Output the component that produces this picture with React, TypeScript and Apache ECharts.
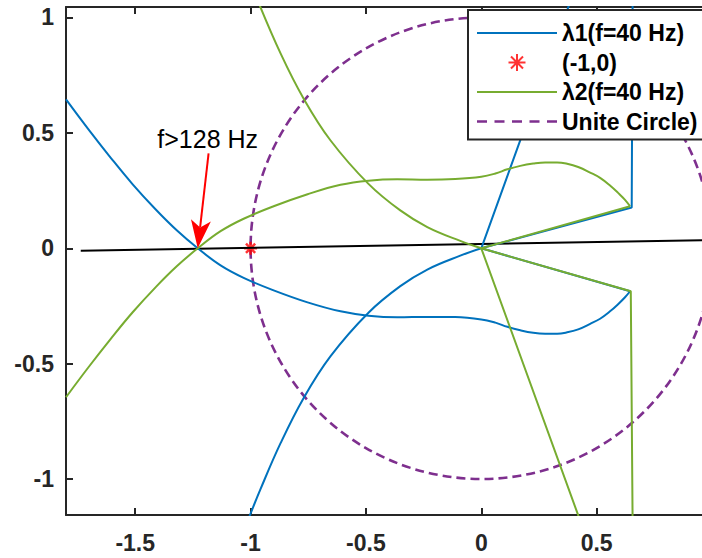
import React, { useEffect, useRef } from "react";
import * as echarts from "echarts";

type Pt = [number, number];

// Axis extents and tick positions
const xRange: Pt = [-1.8, 1.0];
const yRange: Pt = [-1.155, 1.045];
const xTicks = [-1.5, -1, -0.5, 0, 0.5];
const yTicks = [-1, -0.5, 0, 0.5, 1];

// λ1: branch rising from the bottom into the origin
const lambda1Inbound: Pt[] = [
  [-1.011, -1.177], [-0.957, -1.043], [-0.87, -0.844], [-0.771, -0.65],
  [-0.654, -0.468], [-0.489, -0.279], [-0.351, -0.164], [-0.234, -0.092],
  [-0.091, -0.032], [0, 0],
];
// λ1: straight spoke from the origin to the upper corner, then vertical
const lambda1Spoke: Pt[] = [[0, 0], [0.652, 0.177], [0.656, 1.1]];
// λ1: outer branch from the left edge through the crossing to the lower corner
const lambda1Outer: Pt[] = [
  [-1.8, 0.645], [-1.701, 0.513], [-1.606, 0.392], [-1.511, 0.277],
  [-1.411, 0.168], [-1.32, 0.078], [-1.229, 0.0], [-1.13, -0.074],
  [-1.03, -0.128], [-0.9, -0.182], [-0.753, -0.234], [-0.61, -0.273],
  [-0.489, -0.292], [-0.364, -0.299], [-0.234, -0.297], [-0.113, -0.298],
  [0, -0.308], [0.061, -0.322], [0.113, -0.34], [0.169, -0.355],
  [0.225, -0.366], [0.277, -0.37], [0.329, -0.37], [0.372, -0.364],
  [0.42, -0.351], [0.472, -0.327], [0.515, -0.305], [0.558, -0.273],
  [0.593, -0.242], [0.623, -0.212], [0.645, -0.186],
];
// λ1: back to the origin and out through the top
const lambda1Return: Pt[] = [[0.645, -0.186], [0, 0], [0.39, 1.08]];

// λ2: branch falling from the top into the origin
const lambda2Inbound: Pt[] = [
  [-0.97, 1.075], [-0.87, 0.844], [-0.771, 0.65], [-0.654, 0.468],
  [-0.489, 0.279], [-0.351, 0.164], [-0.234, 0.092], [-0.091, 0.032],
  [0, 0],
];
// λ2: straight spoke from the origin to the lower corner, then vertical
const lambda2Spoke: Pt[] = [[0, 0], [0.648, -0.186], [0.656, -1.2]];
// λ2: outer branch from the left edge through the crossing to the upper corner
const lambda2Outer: Pt[] = [
  [-1.8, -0.645], [-1.701, -0.513], [-1.606, -0.392], [-1.511, -0.277],
  [-1.411, -0.168], [-1.32, -0.078], [-1.229, 0.0], [-1.13, 0.074],
  [-1.03, 0.128], [-0.9, 0.182], [-0.753, 0.234], [-0.61, 0.275],
  [-0.489, 0.293], [-0.364, 0.299], [-0.234, 0.297], [-0.113, 0.3],
  [0, 0.31], [0.061, 0.324], [0.113, 0.342], [0.169, 0.357],
  [0.225, 0.367], [0.277, 0.372], [0.329, 0.372], [0.372, 0.366],
  [0.42, 0.352], [0.472, 0.328], [0.515, 0.305], [0.558, 0.272],
  [0.593, 0.24], [0.623, 0.21], [0.645, 0.182],
];
// λ2: back to the origin and out through the bottom
const lambda2Return: Pt[] = [[0.645, 0.182], [0, 0], [0.436, -1.2]];

// Critical point and the near-horizontal reference line
const criticalPoint: Pt[] = [[-1, 0]];
const referenceLine: Pt[] = [[-1.736, -0.011], [1.0, 0.036]];
// Unit circle: centre x, centre y, radius
const unitCircle: [number, number, number][] = [[0, 0, 1]];

// Annotation for the crossing frequency
const noteText = "f>128 Hz";
const noteAnchor: Pt = [-1.186, 0.472];
const arrowTail: Pt = [-1.182, 0.411];
const arrowTip: Pt = [-1.229, 0.0];

const legendNames = ["λ1(f=40 Hz)", "(-1,0)", "λ2(f=40 Hz)", "Unite Circle)"];

const BLUE = "#0072BD";
const GREEN = "#77AC30";
const PURPLE = "#7E2F8E";
const RED = "#FF0000";
const AXIS = "#262626";
const FONT = "'Liberation Sans', Arial, Helvetica, sans-serif";

const ASTERISK =
  "path://M0,-10L0,10M-10,0L10,0M-7.07,-7.07L7.07,7.07M-7.07,7.07L7.07,-7.07";
const LINE_ICON = "path://M0,0h80v2h-80z";
const DASH_ICON =
  "path://M0,0h10v2.6h-10zM17.5,0h10v2.6h-10zM35,0h10v2.6h-10zM52.5,0h10v2.6h-10zM70,0h10v2.6h-10z";

function curve(name: string, color: string, data: Pt[], smooth: boolean) {
  return {
    name,
    type: "line",
    data,
    symbol: "none",
    smooth: smooth ? 0.4 : false,
    clip: true,
    lineStyle: { color, width: 2 },
    itemStyle: { color },
  };
}

function xAxisDef(position: "bottom" | "top") {
  return {
    type: "value",
    position,
    min: xRange[0],
    max: xRange[1],
    splitLine: { show: false },
    axisLine: { show: true, onZero: false, lineStyle: { color: AXIS, width: 2 } },
    axisTick: {
      show: true,
      inside: true,
      length: 7,
      customValues: xTicks,
      lineStyle: { color: AXIS, width: 2 },
    },
    axisLabel: {
      show: position === "bottom",
      customValues: xTicks,
      margin: 16,
      fontSize: 23,
      fontWeight: "bold",
      fontFamily: FONT,
      color: AXIS,
    },
  };
}

export default function App() {
  const ref = useRef<HTMLDivElement>(null);

  useEffect(() => {
    if (!ref.current) return;
    const chart = echarts.init(ref.current, null, { renderer: "svg" });

    const option: any = {
      animation: false,
      backgroundColor: "#ffffff",
      grid: {
        left: 66,
        top: 7,
        width: 646,
        height: 508,
        containLabel: false,
        outerBoundsMode: "none",
      },
      xAxis: [xAxisDef("bottom"), xAxisDef("top")],
      yAxis: {
        type: "value",
        min: yRange[0],
        max: yRange[1],
        splitLine: { show: false },
        axisLine: { show: true, onZero: false, lineStyle: { color: AXIS, width: 2 } },
        axisTick: {
          show: true,
          inside: true,
          length: 7,
          customValues: yTicks,
          lineStyle: { color: AXIS, width: 2 },
        },
        axisLabel: {
          customValues: yTicks,
          margin: 12,
          fontSize: 23,
          fontWeight: "bold",
          fontFamily: FONT,
          color: AXIS,
        },
      },
      legend: {
        data: [
          { name: legendNames[0], icon: LINE_ICON },
          legendNames[1],
          { name: legendNames[2], icon: LINE_ICON },
          { name: legendNames[3], icon: DASH_ICON },
        ],
        orient: "vertical",
        left: 468,
        top: 10,
        padding: [11, 15, 6, 9],
        itemWidth: 80,
        itemHeight: 17,
        itemGap: 5.5,
        itemTextGap: 6,
        selectedMode: false,
        backgroundColor: "#ffffff",
        borderColor: AXIS,
        borderWidth: 2,
        borderRadius: 0,
        textStyle: {
          fontSize: 23,
          lineHeight: 24,
          fontWeight: "bold",
          fontFamily: FONT,
          color: "#000000",
        },
      },
      series: [
        {
          name: "reference",
          type: "line",
          data: referenceLine,
          symbol: "none",
          lineStyle: { color: "#000000", width: 2 },
        },
        curve(legendNames[0], BLUE, lambda1Inbound, true),
        curve(legendNames[0], BLUE, lambda1Spoke, false),
        curve(legendNames[0], BLUE, lambda1Outer, true),
        curve(legendNames[0], BLUE, lambda1Return, false),
        {
          name: legendNames[1],
          type: "scatter",
          data: criticalPoint,
          symbol: ASTERISK,
          symbolSize: 13,
          itemStyle: { color: RED, borderColor: RED, borderWidth: 2.5 },
        },
        curve(legendNames[2], GREEN, lambda2Inbound, true),
        curve(legendNames[2], GREEN, lambda2Spoke, false),
        curve(legendNames[2], GREEN, lambda2Outer, true),
        curve(legendNames[2], GREEN, lambda2Return, false),
        {
          name: legendNames[3],
          type: "custom",
          data: unitCircle,
          encode: { x: 0, y: 1 },
          itemStyle: { color: PURPLE },
          renderItem: (_params: any, api: any) => {
            const c = api.coord([api.value(0), api.value(1)]);
            const r = api.size([api.value(2), 0])[0];
            return {
              type: "circle",
              shape: { cx: c[0], cy: c[1], r },
              style: { fill: "none", stroke: PURPLE, lineWidth: 2.6, lineDash: [9, 5] },
            };
          },
        },
      ],
    };

    chart.setOption(option);

    // Red annotation arrow and its label, placed through the axes' scales
    const finder = { xAxisIndex: 0, yAxisIndex: 0 };
    const p0 = chart.convertToPixel(finder, arrowTail) as number[];
    const p1 = chart.convertToPixel(finder, arrowTip) as number[];
    const pn = chart.convertToPixel(finder, noteAnchor) as number[];
    const dx = p1[0] - p0[0];
    const dy = p1[1] - p0[1];
    const len = Math.hypot(dx, dy);
    const ux = dx / len;
    const uy = dy / len;
    const nx = -uy;
    const ny = ux;
    const headLen = 28;
    const headHalf = 10;
    const notch = 21;
    const back = [p1[0] - ux * headLen, p1[1] - uy * headLen];
    const mid = [p1[0] - ux * notch, p1[1] - uy * notch];

    chart.setOption({
      graphic: [
        {
          type: "line",
          shape: { x1: p0[0], y1: p0[1], x2: mid[0], y2: mid[1] },
          style: { stroke: RED, lineWidth: 2 },
          z: 100,
        },
        {
          type: "polygon",
          shape: {
            points: [
              [p1[0], p1[1]],
              [back[0] + nx * headHalf, back[1] + ny * headHalf],
              [mid[0], mid[1]],
              [back[0] - nx * headHalf, back[1] - ny * headHalf],
            ],
          },
          style: { fill: RED },
          z: 100,
        },
        {
          type: "text",
          x: pn[0],
          y: pn[1],
          style: {
            text: noteText,
            fontSize: 25,
            fontFamily: FONT,
            fill: "#000000",
            align: "center",
            verticalAlign: "middle",
          },
          z: 100,
        },
      ],
    });

    return () => chart.dispose();
  }, []);

  return (
    <div
      ref={ref}
      style={{ position: "fixed", left: 0, top: 0, width: 702, height: 558 }}
    />
  );
}
